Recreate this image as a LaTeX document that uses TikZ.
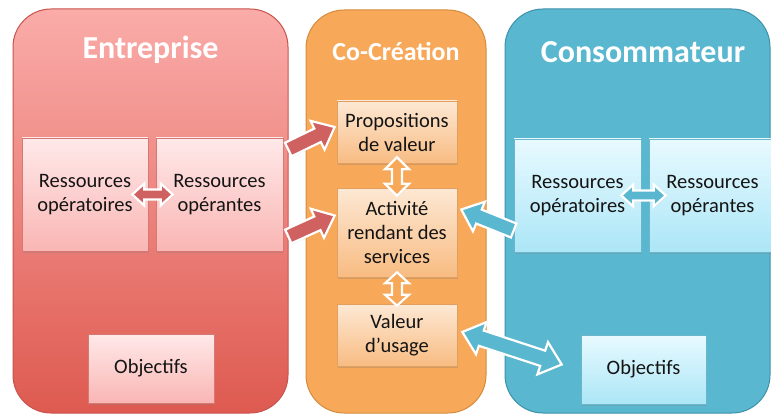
\documentclass[tikz,border=0pt]{standalone}
\usepackage{fontspec}
\setmainfont{Carlito}
\usetikzlibrary{calc,shadows}
\definecolor{rTop}{RGB}{250,172,169}
\definecolor{rBot}{RGB}{222,90,80}
\definecolor{rLine}{RGB}{200,84,78}
\definecolor{oFill}{RGB}{247,168,88}
\definecolor{oLine}{RGB}{214,140,62}
\definecolor{bFill}{RGB}{90,183,208}
\definecolor{bLine}{RGB}{62,146,170}
\definecolor{rbTop}{RGB}{255,233,233}
\definecolor{rbBot}{RGB}{249,182,180}
\definecolor{rbLine}{RGB}{214,120,116}
\definecolor{obTop}{RGB}{253,232,212}
\definecolor{obBot}{RGB}{248,188,130}
\definecolor{obLine}{RGB}{226,160,96}
\definecolor{bbTop}{RGB}{232,250,255}
\definecolor{bbBot}{RGB}{172,230,247}
\definecolor{bbLine}{RGB}{108,182,204}
\definecolor{rArrow}{RGB}{207,98,97}
\definecolor{txt}{RGB}{20,20,20}
\tikzset{
  panel/.style={rounded corners=38pt, line width=1pt, minimum width=#1, inner sep=0pt},
  paneltitle/.style={text=white, font=\bfseries\fontsize{32}{36}\selectfont, inner sep=0pt},
  innerbox/.style={line width=0.6pt, align=center, text=txt, inner sep=2pt,
    font=\fontsize{20.5}{24}\selectfont,
    drop shadow={opacity=0.3, shadow xshift=1pt, shadow yshift=-1.5pt}},
  redbox/.style={innerbox, draw=rbLine, top color=rbTop, bottom color=rbBot},
  orangebox/.style={innerbox, draw=obLine, top color=obTop, bottom color=obBot},
  bluebox/.style={innerbox, draw=bbLine, top color=bbTop, bottom color=bbBot},
  blockarrow/.style={fill=#1, draw=white, line width=2.2pt, line join=miter,
    drop shadow={opacity=0.25, shadow xshift=0.8pt, shadow yshift=-1pt}}
}
% single block arrow: #1 style, #2 tail, #3 tip, #4 shaft half width, #5 head half width, #6 head length
\newcommand\singleblockarrow[6]{%
  \coordinate (bam) at ($(#3)!#6!(#2)$);
  \path[#1] ($(#2)!#4!90:(#3)$) -- ($(bam)!#4!90:(#3)$) -- ($(bam)!#5!90:(#3)$) -- (#3)
    -- ($(bam)!#5!-90:(#3)$) -- ($(bam)!#4!-90:(#3)$) -- ($(#2)!#4!-90:(#3)$) -- cycle;
}
% double block arrow
\newcommand\doubleblockarrow[6]{%
  \coordinate (bmone) at ($(#2)!#6!(#3)$);
  \coordinate (bmtwo) at ($(#3)!#6!(#2)$);
  \path[#1] (#2) -- ($(bmone)!#5!90:(#3)$) -- ($(bmone)!#4!90:(#3)$) -- ($(bmtwo)!#4!90:(#3)$)
    -- ($(bmtwo)!#5!90:(#3)$) -- (#3) -- ($(bmtwo)!#5!-90:(#3)$) -- ($(bmtwo)!#4!-90:(#3)$)
    -- ($(bmone)!#4!-90:(#3)$) -- ($(bmone)!#5!-90:(#3)$) -- cycle;
}
\begin{document}
\begin{tikzpicture}[x=1pt,y=-1pt]
\useasboundingbox (0,0) rectangle (771,417);
\fill[white] (0,0) rectangle (771,417);
% panels
\node[panel=275pt, minimum height=404pt, draw=rLine, top color=rTop, bottom color=rBot] (pE) at (150.5,211) {};
\node[panel=180pt, minimum height=403pt, draw=oLine, fill=oFill] (pC) at (396,211.5) {};
\node[panel=265pt, minimum height=404pt, draw=bLine, fill=bFill] (pK) at (637.5,211) {};
\node[paneltitle] (tE) at (150.5,50) {Entreprise};
\node[paneltitle, font=\bfseries\fontsize{26}{30}\selectfont] (tC) at (396,51) {Co-Création};
\node[paneltitle] (tK) at (643,52) {Consommateur};
% inner boxes
\node[redbox, minimum width=126pt, minimum height=113pt] (ropR) at (85,194.5) {Ressources\\opératoires};
\node[redbox, minimum width=127pt, minimum height=113pt] (ropaR) at (219.5,194.5) {Ressources\\opérantes};
\node[redbox, minimum width=126pt, minimum height=69pt] (objR) at (151,368.5) {Objectifs};
\node[orangebox, minimum width=120pt, minimum height=62pt] (prop) at (397,132) {Propositions\\de valeur};
\node[orangebox, minimum width=120pt, minimum height=89pt] (act) at (397,232.5) {Activité\\rendant des\\services};
\node[orangebox, minimum width=120pt, minimum height=62pt] (val) at (397,335) {Valeur\\d’usage};
\node[bluebox, minimum width=127pt, minimum height=113pt] (ropC) at (577.5,195.5) {Ressources\\opératoires};
\node[bluebox, minimum width=127pt, minimum height=113pt] (ropaC) at (712.5,195.5) {Ressources\\opérantes};
\node[bluebox, minimum width=125pt, minimum height=69pt] (objC) at (643.5,369.5) {Objectifs};
% arrow end points
\coordinate (r1a) at ($(ropaR.east)+(5,-45)$);
\coordinate (r1b) at ($(prop.west)+(-2,-5)$);
\coordinate (r2a) at ($(ropaR.east)+(5,42)$);
\coordinate (r2b) at ($(act.west)+(-2,-17)$);
\coordinate (b1a) at ($(ropC.west)+(0,35)$);
\coordinate (b1b) at ($(act.east)+(4,-23)$);
\coordinate (b2a) at ($(val.east)+(5,-3)$);
\coordinate (b2b) at ($(objC.west)+(-19,-5)$);
\coordinate (rha) at ($(ropR.east)+(-16,0)$);
\coordinate (rhb) at ($(ropaR.west)+(17,0)$);
\coordinate (o1a) at ($(prop.south)+(0,-6)$);
\coordinate (o1b) at ($(act.north)+(0,8)$);
\coordinate (o2a) at ($(act.south)+(0,-5)$);
\coordinate (o2b) at ($(val.north)+(0,2)$);
\coordinate (bha) at ($(ropC.east)+(-20,0)$);
\coordinate (bhb) at ($(ropaC.west)+(17,0)$);
% arrows
\singleblockarrow{blockarrow=rArrow}{r1a}{r1b}{7.5pt}{16pt}{19pt}
\singleblockarrow{blockarrow=rArrow}{r2a}{r2b}{7.5pt}{16pt}{19pt}
\singleblockarrow{blockarrow=bFill}{b1a}{b1b}{7.5pt}{16pt}{19pt}
\doubleblockarrow{blockarrow=bFill}{b2a}{b2b}{8pt}{17pt}{20pt}
\doubleblockarrow{blockarrow=rArrow}{rha}{rhb}{5pt}{11pt}{12pt}
\doubleblockarrow{blockarrow=oFill}{o1a}{o1b}{5pt}{12pt}{12pt}
\doubleblockarrow{blockarrow=oFill}{o2a}{o2b}{5pt}{12pt}{11pt}
\doubleblockarrow{blockarrow=bFill}{bha}{bhb}{5pt}{11pt}{12pt}
\end{tikzpicture}
\end{document}
